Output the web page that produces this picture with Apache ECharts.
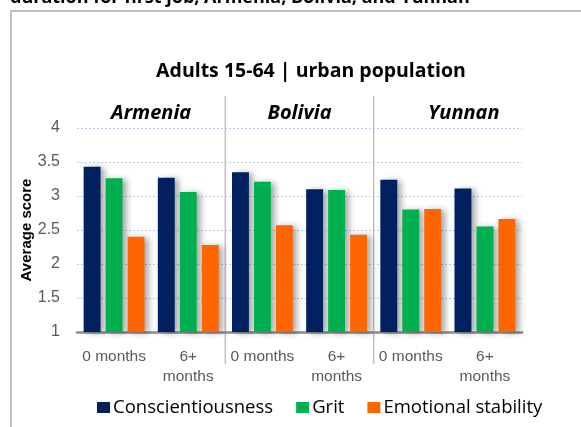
<!DOCTYPE html>
<html><head><meta charset="utf-8">
<script src="https://cdn.jsdelivr.net/npm/echarts@6/dist/echarts.min.js"></script>
<style>html,body{margin:0;padding:0;background:#fff}#c{width:581px;height:427px}</style>
</head><body><div id="c"></div>
<script>
// ---- data ----
const categories = ['0 months', '6+\nmonths', '0 months', '6+\nmonths', '0 months', '6+\nmonths'];
const groups = ['Armenia', 'Bolivia', 'Yunnan'];
const seriesNames = ['Conscientiousness', 'Grit', 'Emotional stability'];
const conscientiousness = [3.43, 3.27, 3.35, 3.10, 3.24, 3.11];
const grit = [3.26, 3.06, 3.21, 3.09, 2.80, 2.55];
const emotionalStability = [2.40, 2.28, 2.57, 2.43, 2.81, 2.66];
const yMin = 1, yMax = 4, yStep = 0.5;
const chartTitle = 'Adults 15-64 | urban population';
const clippedHeading = 'duration for first job, Armenia, Bolivia, and Yunnan';
const yAxisName = 'Average score';

// ---- styles ----
const colors = ['#002060', '#00B050', '#FF6600'];
const calibriLike = '"Open Sans", Lato, sans-serif';
const arialLike = '"Liberation Sans", Arial, sans-serif';

const chart = echarts.init(document.getElementById('c'), null, {renderer: 'canvas'});

const barStyle = {
  shadowColor: 'rgba(0,0,0,0.35)', shadowBlur: 6, shadowOffsetX: 4, shadowOffsetY: 1
};
const values = [conscientiousness, grit, emotionalStability];

chart.setOption({
  animation: false,
  backgroundColor: '#ffffff',
  color: colors,
  title: {
    text: chartTitle, left: 306, textAlign: 'center', top: 56,
    textStyle: {fontFamily: calibriLike, fontWeight: 'bold', fontSize: 19.5, color: '#000'}
  },
  legend: {
    left: 97, top: 398, padding: 0, itemWidth: 13, itemHeight: 11, itemGap: 23,
    icon: 'rect',
    textStyle: {fontFamily: calibriLike, fontSize: 18.5, color: '#000', padding: [0, 0, 0, -2]},
    data: seriesNames
  },
  grid: {left: 77, right: 59, top: 128, bottom: 95, containLabel: false},
  xAxis: {
    type: 'category', data: categories,
    axisLine: {lineStyle: {color: '#8c8c8c', width: 2.5}},
    axisTick: {show: false},
    axisLabel: {fontFamily: arialLike, fontSize: 15.5, color: '#595959', margin: 15, lineHeight: 20, interval: 0}
  },
  yAxis: {
    type: 'value', min: yMin, max: yMax, interval: yStep,
    name: yAxisName, nameLocation: 'middle', nameGap: 43, nameRotate: 90,
    nameMoveOverlap: false,
    nameTextStyle: {fontFamily: arialLike, fontWeight: 'bold', fontSize: 15, color: '#000'},
    axisLine: {show: false}, axisTick: {show: false},
    axisLabel: {fontFamily: arialLike, fontSize: 16, color: '#595959', margin: 17},
    splitLine: {lineStyle: {color: '#b9cde8', type: [2, 2], width: 1}}
  },
  series: seriesNames.map((n, i) => ({
    name: n, type: 'bar', data: values[i],
    barCategoryGap: '18%', barGap: '30%',
    itemStyle: barStyle
  }))
});

// ---- decorations positioned from the axes ----
function px(i) { return chart.convertToPixel({xAxisIndex: 0}, i); }
const yTop = chart.convertToPixel({yAxisIndex: 0}, yMax);
const graphics = [
  {type: 'polyline', silent: true, shape: {points: [[11, 427], [11, 11], [581, 11]]},
   style: {stroke: '#bfbfbf', lineWidth: 2, fill: null}},
  {type: 'text', silent: true, x: 10, y: -2,
   style: {text: clippedHeading, font: 'bold 18px ' + calibriLike, fill: '#000', align: 'left', verticalAlign: 'middle'}}
];
for (let g = 1; g < groups.length; g++) {
  const xb = (px(2 * g - 1) + px(2 * g)) / 2;
  graphics.push({type: 'line', silent: true,
    shape: {x1: xb, y1: yTop - 32, x2: xb, y2: yTop + 236},
    style: {stroke: '#bfbfbf', lineWidth: 1.5}});
}
const labelShift = [0, 0, 16];
groups.forEach((name, g) => {
  const xc = (px(2 * g) + px(2 * g + 1)) / 2 + labelShift[g];
  graphics.push({type: 'text', silent: true, x: xc, y: yTop - 15,
    style: {text: name, font: 'italic bold 20px ' + calibriLike, fill: '#000',
      align: 'center', verticalAlign: 'middle'}});
});
chart.setOption({graphic: graphics});
</script>
</body></html>
